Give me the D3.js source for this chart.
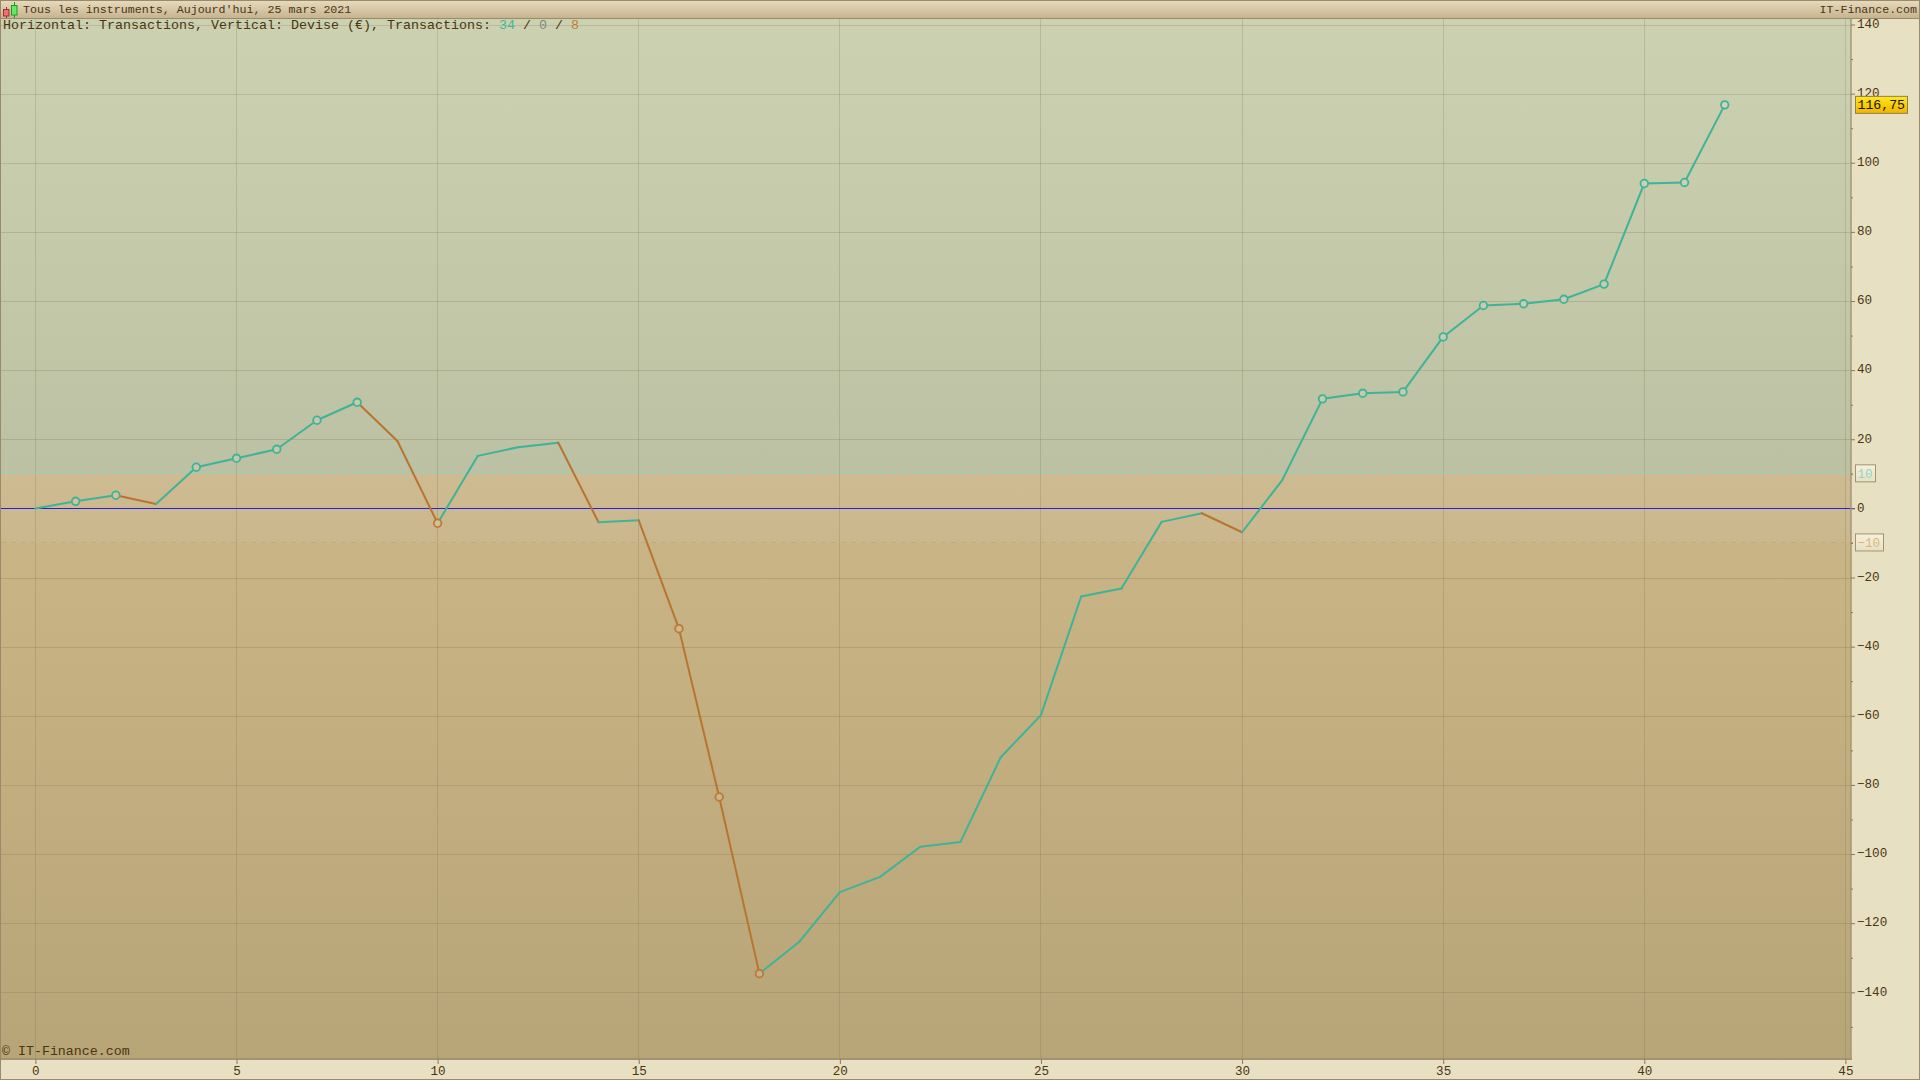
<!DOCTYPE html>
<html><head><meta charset="utf-8">
<style>html,body{margin:0;padding:0;background:#e8e0c2;overflow:hidden}svg{display:block}
text{font-family:"Liberation Mono",monospace;fill:#4a3512}</style>
<script src="https://cdn.jsdelivr.net/npm/d3@7"></script></head><body>
<script>
const equity=[0,2.05,3.8,1.3,11.9,14.5,17.1,25.5,30.7,19.5,-4.3,15.2,17.7,19,-4,-3.45,-34.8,-83.5,-134.6,-125.3,-111,-106.6,-97.9,-96.5,-72,-59.8,-25.5,-23.2,-3.9,-1.4,-6.9,8.2,31.7,33.3,33.7,49.6,58.7,59.2,60.5,64.9,94,94.3,116.75];
const markedGreen=[1,2,4,5,6,7,8,32,33,34,35,36,37,38,39,40,41,42];
const markedOrange=[10,16,17,18];
const xTicks=[0,5,10,15,20,25,30,35,40,45];
const yMajor=[140,120,100,80,60,40,20,0,-20,-40,-60,-80,-100,-120,-140];
const yMinor=[130,110,90,70,50,30,10,-10,-30,-50,-70,-90,-110,-130,-150];
const thresholds=[10,-10];
const titleText="Tous les instruments, Aujourd'hui, 25 mars 2021";
const brandText="IT-Finance.com";
const copyrightText="© IT-Finance.com";
const legendParts=[["Horizontal: Transactions, Vertical: Devise (€), Transactions: ","#4a3512"],["34","#45b59c"],[" / ","#4a3512"],["0","#7d8a80"],[" / ","#4a3512"],["8","#c47d34"]];
const lastLabel="116,75";

const W=1920,H=1080,L=1,R=1851,T=18.5,B=1059;
const GREEN="#3fb398",ORANGE="#b87530";
const x=d3.scaleLinear().domain([0,45]).range([35.4,1845.4]);
const y=d3.scaleLinear().domain([140,-140]).range([24.5,992.3]);
const svg=d3.select("body").append("svg").attr("width",W).attr("height",H);
const defs=svg.append("defs");
function grad(id,stops,coords){
  const g=defs.append("linearGradient").attr("id",id);
  if(coords){g.attr("gradientUnits","userSpaceOnUse").attr("x1",0).attr("x2",0).attr("y1",coords[0]).attr("y2",coords[1]);}
  else g.attr("x1",0).attr("x2",0).attr("y1",0).attr("y2",1);
  stops.forEach(s=>g.append("stop").attr("offset",s[0]).attr("stop-color",s[1]));
}
const y10=y(10),ym10=y(-10),span=B-T,of=v=>(v-T)/span;
grad("plot",[[0,"#ccd2b1"],[of(y10),"#bbc1a2"],[of(y10)+.0001,"#cfbb92"],[of(ym10),"#cab78e"],[of(ym10)+.0001,"#c9b485"],[1,"#b8a577"]],[T,B]);
grad("bar",[[0,"#e6d9bd"],[1,"#c7b48f"]]);
grad("tag",[[0,"#ffe81a"],[1,"#f0b400"]]);
grad("box",[[0,"#f6f1dc"],[1,"#e8e0c4"]]);

svg.append("rect").attr("width",W).attr("height",H).attr("fill","#e8e0c2");
svg.append("rect").attr("x",L).attr("y",T).attr("width",R-L).attr("height",B-T).attr("fill","url(#plot)");

const grid=svg.append("g").attr("stroke","#6e6a48").attr("stroke-opacity",.22).attr("stroke-width",1);
grid.selectAll("line.v").data(xTicks).join("line").attr("x1",d=>Math.floor(x(d))+.5).attr("x2",d=>Math.floor(x(d))+.5).attr("y1",T).attr("y2",B);
grid.selectAll("line.h").data(yMajor).join("line").attr("x1",L).attr("x2",R).attr("y1",d=>Math.round(y(d))+.5).attr("y2",d=>Math.round(y(d))+.5);

// thresholds
svg.append("line").attr("x1",L).attr("x2",1853).attr("y1",Math.floor(y10)+.5).attr("y2",Math.floor(y10)+.5).attr("stroke","#86d8c4").attr("stroke-dasharray","5,5");
svg.append("line").attr("x1",L).attr("x2",1853).attr("y1",Math.floor(ym10)+.5).attr("y2",Math.floor(ym10)+.5).attr("stroke","#c8a878").attr("stroke-dasharray","5,5");
// zero
svg.append("line").attr("x1",L).attr("x2",1855).attr("y1",508.5).attr("y2",508.5).attr("stroke","#2222dd").attr("stroke-width",1);

// frame
svg.append("line").attr("x1",R).attr("x2",R).attr("y1",T).attr("y2",B).attr("stroke","#a39370").attr("stroke-width",1.4);
svg.append("line").attr("x1",0).attr("x2",R+1).attr("y1",B).attr("y2",B).attr("stroke","#a39370").attr("stroke-width",2);
svg.append("rect").attr("x",.5).attr("y",.5).attr("width",W-1).attr("height",H-1).attr("fill","none").attr("stroke","#9a8a6a");

// axes
const yAxis=d3.axisRight(y).tickValues(yMajor).tickSize(4).tickPadding(2).tickFormat(d3.format("d"));
const gy=svg.append("g").attr("transform",`translate(${R},0)`).call(yAxis);
gy.select(".domain").remove();
gy.selectAll("line").attr("stroke","#8a7a58");
gy.selectAll("text").attr("font-size",12.6).attr("font-family","Liberation Mono").attr("dy","0.22em").style("fill","#4a3512");
const gyM=svg.append("g").attr("transform",`translate(${R},0)`).call(d3.axisRight(y).tickValues(yMinor).tickSize(2).tickFormat(""));
gyM.select(".domain").remove();gyM.selectAll("line").attr("stroke","#8a7a58");
const xAxis=d3.axisBottom(x).tickValues(xTicks).tickSize(5).tickPadding(1).tickFormat(d3.format("d"));
const gx=svg.append("g").attr("transform",`translate(0,${B})`).call(xAxis);
gx.select(".domain").remove();
gx.selectAll("line").attr("stroke","#8a7a58");
gx.selectAll("text").attr("font-size",12.6).attr("font-family","Liberation Mono").attr("y",16).attr("dy",0).style("fill","#4a3512");

// threshold boxes
const tc=d=>d>0?"#8fd6c6":"#d9b67c";
const bx=svg.append("g").selectAll("g").data(thresholds).join("g");
bx.append("rect").attr("x",1855.5).attr("y",d=>y(d)-9).attr("width",d=>d>0?20:28).attr("height",17).attr("fill","url(#box)").attr("stroke","#a39370");
bx.append("text").attr("x",1857.5).attr("y",d=>y(d)+4).attr("font-size",12.6).style("fill",tc).text(d=>d3.format("d")(d));

// line segments, coloured by direction
const pts=equity.map((v,i)=>({i,v}));
svg.append("g").attr("fill","none").attr("stroke-width",2).attr("stroke-linecap","round")
 .selectAll("line").data(d3.pairs(pts)).join("line")
 .attr("x1",d=>x(d[0].i)).attr("y1",d=>y(d[0].v)).attr("x2",d=>x(d[1].i)).attr("y2",d=>y(d[1].v))
 .attr("stroke",d=>d[1].v>=d[0].v?GREEN:ORANGE);

// markers
function markers(idx,col){
  svg.append("g").selectAll("circle").data(idx).join("circle").attr("cx",d=>x(d)).attr("cy",d=>y(equity[d])).attr("r",3.8).attr("fill","url(#plot)");
  svg.append("g").selectAll("circle").data(idx).join("circle").attr("cx",d=>x(d)).attr("cy",d=>y(equity[d])).attr("r",3.8).attr("fill","#fff").attr("fill-opacity",.12).attr("stroke",col).attr("stroke-width",1.8);
}
markers(markedGreen,GREEN);
markers(markedOrange,"#bd7a34");

// price tag
const ty=y(equity[equity.length-1]);
svg.append("rect").attr("x",1855.5).attr("y",ty-8.5).attr("width",52).attr("height",17).attr("fill","url(#tag)").attr("stroke","#8f7f50");
svg.append("text").attr("x",1857.5).attr("y",ty+4.5).attr("font-size",13.2).style("fill","#1a1400").text(lastLabel);

// title bar
svg.append("rect").attr("x",1).attr("y",1).attr("width",W-2).attr("height",17).attr("fill","url(#bar)");
svg.append("line").attr("x1",0).attr("x2",W).attr("y1",18.5).attr("y2",18.5).attr("stroke","#9a8a66");
svg.append("text").attr("x",23).attr("y",13).attr("font-size",11.65).text(titleText);
svg.append("text").attr("x",1917).attr("y",13).attr("text-anchor","end").attr("font-size",11.6).text(brandText);
// icon
const ic=svg.append("g");
ic.append("line").attr("x1",6.5).attr("x2",6.5).attr("y1",7).attr("y2",18).attr("stroke","#a03030");
ic.append("rect").attr("x",3.5).attr("y",9.5).attr("width",5.5).attr("height",6.5).attr("fill","#f07070").attr("stroke","#a03030");
ic.append("line").attr("x1",14.5).attr("x2",14.5).attr("y1",2).attr("y2",18).attr("stroke","#1e9a1e");
ic.append("rect").attr("x",11.5).attr("y",5.5).attr("width",5.5).attr("height",9.5).attr("fill","#66e866").attr("stroke","#1e9a1e");

// legend
const lg=svg.append("text").attr("x",3).attr("y",29).attr("font-size",13.33).style("white-space","pre");
lg.selectAll("tspan").data(legendParts).join("tspan").text(d=>d[0]).style("fill",d=>d[1]);
svg.append("text").attr("x",2).attr("y",1055).attr("font-size",13.3).text(copyrightText);
</script></body></html>
